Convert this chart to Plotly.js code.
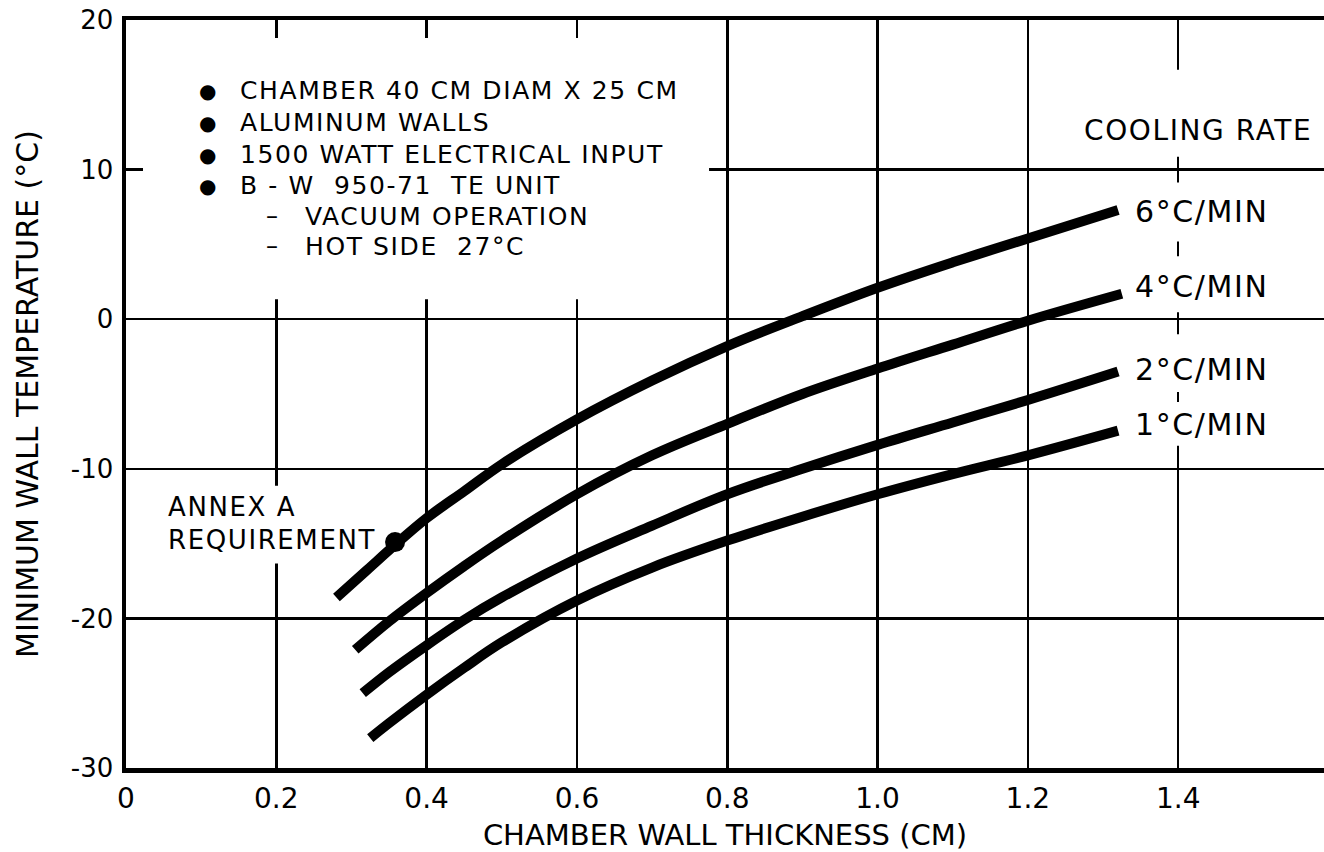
<!DOCTYPE html>
<html>
<head>
<meta charset="utf-8">
<script src="https://cdn.plot.ly/plotly-3.0.1.min.js"></script>
<style>
  html, body { margin: 0; padding: 0; background: #ffffff; }
  #chart { width: 1324px; height: 852px; }
  .annotation-text { letter-spacing: 1.6px; }
</style>
</head>
<body>
<div id="chart"></div>
<script>
// ---- data ----
const seriesNames = ["6°C/MIN", "4°C/MIN", "2°C/MIN", "1°C/MIN"];

const thick6 = [0.28, 0.32, 0.36, 0.40, 0.45, 0.50, 0.60, 0.70, 0.80, 0.90, 1.00, 1.10, 1.20, 1.32];
const temp6  = [-18.6, -16.8, -15.0, -13.3, -11.5, -9.7, -6.7, -4.1, -1.8, 0.2, 2.1, 3.8, 5.4, 7.3];

const thick4 = [0.305, 0.35, 0.40, 0.45, 0.50, 0.60, 0.70, 0.80, 0.90, 1.00, 1.10, 1.20, 1.325];
const temp4  = [-22.1, -20.2, -18.3, -16.5, -14.8, -11.7, -9.1, -7.0, -5.0, -3.3, -1.7, -0.1, 1.7];

const thick2 = [0.315, 0.35, 0.40, 0.45, 0.50, 0.60, 0.70, 0.80, 0.90, 1.00, 1.10, 1.20, 1.32];
const temp2  = [-25.0, -23.6, -21.8, -20.1, -18.6, -16.0, -13.8, -11.7, -10.0, -8.4, -6.9, -5.4, -3.5];

const thick1 = [0.325, 0.35, 0.40, 0.45, 0.50, 0.60, 0.70, 0.80, 0.90, 1.00, 1.10, 1.20, 1.32];
const temp1  = [-28.0, -27.0, -25.1, -23.3, -21.6, -18.8, -16.6, -14.8, -13.2, -11.7, -10.35, -9.1, -7.45];

const annexThick = [0.358];
const annexTemp  = [-14.9];

const xTickVals = [0, 0.2, 0.4, 0.6, 0.8, 1.0, 1.2, 1.4];
const xTickText = ["0", "0.2", "0.4", "0.6", "0.8", "1.0", "1.2", "1.4"];
const yTickVals = [-30, -20, -10, 0, 10, 20];
const yTickText = ["-30", "-20", "-10", "0", "10", "20"];

const noteBullets = ["CHAMBER 40 CM DIAM X 25 CM", "ALUMINUM WALLS", "1500 WATT ELECTRICAL INPUT", "B - W  950-71  TE UNIT"];
const noteDashes  = ["VACUUM OPERATION", "HOT SIDE  27°C"];
const annexLines  = ["ANNEX A", "REQUIREMENT"];

// ---- chart ----
const FONT = "'DejaVu Sans', 'Noto Sans', sans-serif";
const BLACK = "#000000";

function curve(x, y, name) {
  return {
    x: x, y: y, name: name, type: "scatter", mode: "lines",
    line: { color: BLACK, width: 10, shape: "spline", smoothing: 1 },
    hoverinfo: "x+y+name", showlegend: false
  };
}

const traces = [
  curve(thick6, temp6, seriesNames[0]),
  curve(thick4, temp4, seriesNames[1]),
  curve(thick2, temp2, seriesNames[2]),
  curve(thick1, temp1, seriesNames[3]),
  {
    x: annexThick, y: annexTemp, type: "scatter", mode: "markers",
    name: "ANNEX A REQUIREMENT",
    marker: { color: BLACK, size: 20, symbol: "circle" },
    showlegend: false
  }
];

// pixel -> data helpers for annotation placement (plot: x0=126px, 751.5px/unit; y0=320px, 15px/unit)
const px = p => (p - 126) / 751.5;
const py = p => (320 - p) / 15;

const annotations = [];
const rowY = [91, 123, 155, 186];
noteBullets.forEach((t, i) => {
  annotations.push({ x: px(208), y: py(rowY[i]), xref: "x", yref: "y", text: "●", showarrow: false,
    xanchor: "center", yanchor: "middle", font: { family: FONT, size: 20, color: BLACK } });
  annotations.push({ x: px(238), y: py(rowY[i]), xref: "x", yref: "y", text: t, showarrow: false,
    xanchor: "left", yanchor: "middle", font: { family: FONT, size: 25, color: BLACK } });
});
const dashY = [217, 247];
noteDashes.forEach((t, i) => {
  annotations.push({ x: px(273), y: py(dashY[i]), xref: "x", yref: "y", text: "–", showarrow: false,
    xanchor: "center", yanchor: "middle", font: { family: FONT, size: 24, color: BLACK } });
  annotations.push({ x: px(303), y: py(dashY[i]), xref: "x", yref: "y", text: t, showarrow: false,
    xanchor: "left", yanchor: "middle", font: { family: FONT, size: 25, color: BLACK } });
});
const annexY = [508, 541];
annexLines.forEach((t, i) => {
  annotations.push({ x: px(166), y: py(annexY[i]), xref: "x", yref: "y", text: t, showarrow: false,
    xanchor: "left", yanchor: "middle", font: { family: FONT, size: 26, color: BLACK } });
});
annotations.push({ x: px(1082), y: py(131), xref: "x", yref: "y", text: "COOLING RATE", showarrow: false,
  xanchor: "left", yanchor: "middle", font: { family: FONT, size: 28, color: BLACK } });
const rateY = [212, 287, 370, 426];
seriesNames.forEach((t, i) => {
  annotations.push({ x: px(1133), y: py(rateY[i]), xref: "x", yref: "y", text: t, showarrow: false,
    xanchor: "left", yanchor: "middle", font: { family: FONT, size: 30, color: BLACK } });
});

function whiteBox(x0, x1, y0, y1) {
  return { type: "rect", xref: "x", yref: "y", x0: x0, x1: x1, y0: y0, y1: y1,
    fillcolor: "#ffffff", line: { width: 0 }, layer: "between" };
}
const shapes = [
  whiteBox(px(143), px(709), py(300), py(38)),
  whiteBox(px(160), px(376), py(565), py(487)),
  whiteBox(px(1150), px(1300), py(157), py(70)),
  whiteBox(px(1150), px(1300), py(242), py(183)),
  whiteBox(px(1150), px(1300), py(313), py(257)),
  whiteBox(px(1150), px(1300), py(393), py(335)),
  whiteBox(px(1150), px(1300), py(447), py(403))
];

const layout = {
  width: 1324, height: 852,
  margin: { l: 126, r: 0, t: 20, b: 84, pad: 0 },
  paper_bgcolor: "#ffffff", plot_bgcolor: "#ffffff",
  font: { family: FONT, color: BLACK, size: 26 },
  showlegend: false,
  xaxis: {
    range: [0, 1.594], tickvals: xTickVals, ticktext: xTickText,
    showgrid: true, gridcolor: BLACK, gridwidth: 2.5,
    showline: true, linecolor: BLACK, linewidth: 4.5, mirror: true,
    zeroline: false, ticks: "", ticklabelstandoff: 2,
    tickfont: { family: FONT, size: 28, color: BLACK },
    title: { text: "CHAMBER WALL THICKNESS (CM)", standoff: 17, font: { family: FONT, size: 29, color: BLACK } },
    automargin: false, fixedrange: true
  },
  yaxis: {
    range: [-30, 20], tickvals: yTickVals, ticktext: yTickText,
    showgrid: true, gridcolor: BLACK, gridwidth: 2.5,
    showline: true, linecolor: BLACK, linewidth: 4.5,
    zeroline: false, ticks: "", ticklabelstandoff: 3,
    tickfont: { family: FONT, size: 26, color: BLACK },
    title: { text: "MINIMUM WALL TEMPERATURE (°C)", standoff: 25, font: { family: FONT, size: 30, color: BLACK } },
    automargin: false, fixedrange: true
  },
  annotations: annotations,
  shapes: shapes
};

Plotly.newPlot("chart", traces, layout, { displayModeBar: false, staticPlot: true });
</script>
</body>
</html>
